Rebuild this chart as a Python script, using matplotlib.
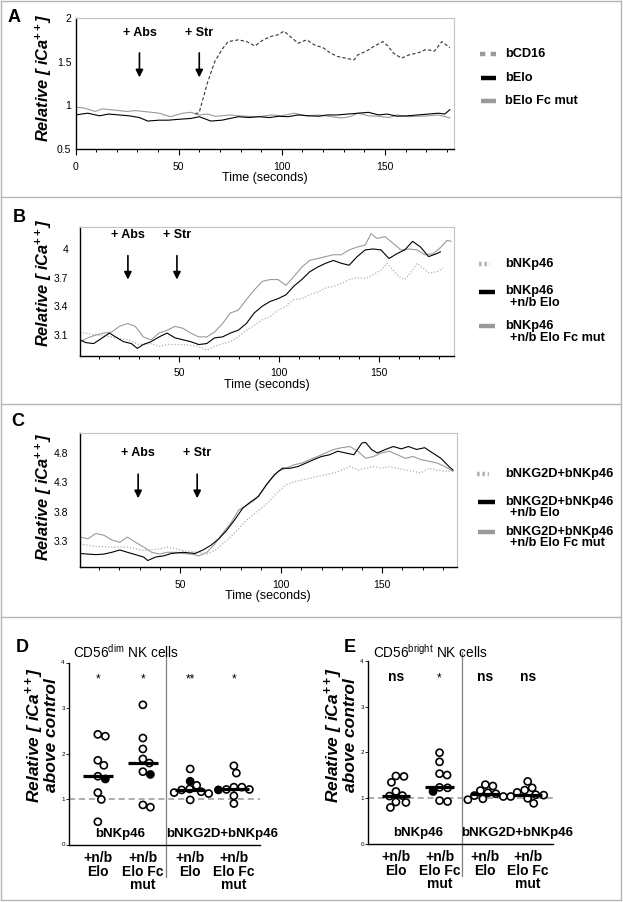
import numpy as np
import matplotlib
matplotlib.use('Agg')
import matplotlib.pyplot as plt
from matplotlib.lines import Line2D

plt.rcParams['font.family'] = ['Liberation Sans', 'DejaVu Sans']
plt.rcParams['mathtext.fontset'] = 'custom'
plt.rcParams['mathtext.rm'] = 'Liberation Sans'
plt.rcParams['mathtext.it'] = 'Liberation Sans:italic'
plt.rcParams['mathtext.bf'] = 'Liberation Sans:bold'

# ---- panel A: calcium traces ----
a_cd16_t = [58, 60, 64, 67.5, 71, 74, 79, 83, 87, 91, 95, 98.5, 101, 104, 108, 112, 116, 120, 123.5,
            127, 131, 135, 137, 141, 145, 149, 151.5, 154, 158, 162, 166, 170, 174, 177.6, 181.5]
a_cd16 = [0.90, 0.92, 1.26, 1.50, 1.64, 1.73, 1.75, 1.73, 1.68, 1.75, 1.79, 1.81, 1.85, 1.79, 1.71,
          1.75, 1.69, 1.66, 1.60, 1.56, 1.54, 1.52, 1.58, 1.62, 1.68, 1.73, 1.68, 1.60, 1.54, 1.58,
          1.60, 1.64, 1.62, 1.73, 1.66]
a_elo_t = [0, 6, 11.6, 16, 21, 26, 31, 35, 40.5, 45, 50, 56, 60, 65.6, 71, 75, 79, 84, 89, 94, 98.5,
           103, 108, 113, 118, 122, 127, 132, 137, 142, 147, 151, 156, 161, 166, 171, 176, 179, 181.5]
a_elo = [0.89, 0.91, 0.88, 0.90, 0.89, 0.88, 0.86, 0.82, 0.83, 0.83, 0.84, 0.85, 0.87, 0.82, 0.83,
         0.85, 0.87, 0.86, 0.87, 0.86, 0.875, 0.87, 0.89, 0.88, 0.875, 0.89, 0.89, 0.90, 0.91, 0.92,
         0.89, 0.90, 0.875, 0.88, 0.89, 0.90, 0.91, 0.90, 0.95]
a_fc_t = [0, 4, 9.6, 13, 17, 21, 25, 29, 33, 37, 40.5, 46, 52, 56, 60, 64, 67.5, 71, 75, 79, 83, 89,
          95, 100, 106, 112, 118, 124, 129, 133, 137, 142, 147, 152, 156, 161, 166, 171, 176, 181.5]
a_fc = [0.98, 0.97, 0.93, 0.96, 0.95, 0.94, 0.93, 0.94, 0.93, 0.92, 0.91, 0.87, 0.91, 0.92, 0.89,
        0.90, 0.875, 0.88, 0.89, 0.88, 0.875, 0.87, 0.89, 0.88, 0.91, 0.88, 0.89, 0.87, 0.855, 0.87,
        0.91, 0.88, 0.875, 0.86, 0.89, 0.87, 0.875, 0.88, 0.89, 0.855]

# ---- panel B ----
b_t = [0.5, 3.5, 7.4, 12.4, 15.3, 18.3, 22.3, 26.2, 29.2, 32.2, 36.1, 40.1, 44.1, 48, 52, 55.9, 59.9,
       63.9, 67.8, 71.8, 75.7, 79.7, 83.7, 87.6, 91.6, 95.5, 99.5, 103.5, 107.4, 111.4, 115.3, 119.3,
       123.3, 127.2, 131.2, 135.1, 139.1, 143.1, 147, 151, 155, 158.9, 162.9, 166.8, 170.8, 174.8,
       178.7, 180.7]
b_elo = [3.05, 3.02, 3.01, 3.08, 3.12, 3.08, 3.03, 3.01, 2.96, 3.00, 3.03, 3.08, 3.12, 3.07, 3.05,
         3.03, 3.00, 3.01, 3.07, 3.08, 3.12, 3.15, 3.22, 3.33, 3.40, 3.45, 3.48, 3.52, 3.61, 3.68,
         3.76, 3.81, 3.85, 3.88, 3.85, 3.83, 3.92, 3.99, 4.00, 3.99, 3.90, 3.95, 3.99, 4.08, 4.02,
         3.92, 3.95, 3.97]
b_fc_t = [0.5, 4.5, 8.4, 12.4, 16.3, 20.3, 24.3, 28.2, 32.2, 36.1, 40.1, 44.1, 48, 52, 55.9, 59.9,
          63.9, 67.8, 71.8, 75.7, 79.7, 83.7, 87.6, 91.6, 95.5, 99.5, 103.5, 107.4, 111.4, 115.3,
          119.3, 123.3, 127.2, 131.2, 135.1, 139.1, 143.1, 146, 149, 153, 157, 161, 165, 169, 173,
          177, 181, 184, 186]
b_fc = [3.03, 3.07, 3.10, 3.12, 3.13, 3.19, 3.22, 3.19, 3.08, 3.05, 3.12, 3.15, 3.19, 3.17, 3.12,
        3.08, 3.08, 3.13, 3.22, 3.33, 3.36, 3.47, 3.57, 3.66, 3.68, 3.68, 3.62, 3.71, 3.81, 3.88,
        3.90, 3.92, 3.94, 3.94, 3.99, 4.02, 4.04, 4.16, 4.11, 4.13, 4.06, 3.99, 4.00, 3.99, 3.94,
        3.95, 4.02, 4.09, 4.08]
b_nkp_t = [0.5, 8.4, 16.3, 24.3, 30, 36.1, 40.1, 44.1, 52, 59.9, 63.9, 67.8, 71.8, 75.7, 79.7, 83.7,
           87.6, 91.6, 95.5, 99.5, 103.5, 107.4, 111.4, 115.3, 119.3, 123.3, 127.2, 131.2, 135.1,
           139.1, 143.1, 147, 151, 154, 157, 160, 163, 167, 169, 172, 175, 179, 182]
b_nkp = [3.13, 3.10, 3.08, 3.05, 3.00, 3.01, 2.98, 3.00, 3.00, 2.98, 2.94, 2.98, 3.01, 3.03, 3.08,
         3.15, 3.20, 3.26, 3.29, 3.36, 3.40, 3.47, 3.48, 3.52, 3.55, 3.59, 3.61, 3.64, 3.68, 3.70,
         3.69, 3.73, 3.78, 3.85, 3.78, 3.71, 3.68, 3.78, 3.85, 3.80, 3.75, 3.76, 3.80]

# ---- panel C ----
c_t = [0.6, 8.4, 12.4, 16.3, 20.2, 24, 28, 32, 34, 38, 42, 45.7, 51.6, 57.5, 61.4, 65.3, 69.2, 73, 77,
       81, 85, 88.8, 92.7, 96.7, 100.6, 104.5, 108.4, 112.4, 116.3, 120, 124, 128, 132, 136, 140,
       141.8, 144.7, 147.6, 151.6, 155.5, 159.4, 163, 167, 171, 175, 179, 183, 185]
c_elo = [3.09, 3.07, 3.08, 3.11, 3.15, 3.11, 3.07, 3.03, 2.97, 3.03, 3.05, 3.09, 3.11, 3.09, 3.15,
         3.23, 3.34, 3.48, 3.66, 3.86, 3.97, 4.06, 4.26, 4.43, 4.54, 4.54, 4.57, 4.63, 4.69, 4.74,
         4.77, 4.83, 4.80, 4.77, 4.97, 4.98, 4.86, 4.80, 4.86, 4.91, 4.87, 4.91, 4.86, 4.89, 4.80,
         4.71, 4.57, 4.51]
c_fc_t = [0.6, 4.5, 8.4, 12.4, 16.3, 20.2, 24, 28, 32, 36, 40, 43.7, 47.6, 51.6, 55.5, 59.4, 63.3,
          67.2, 71, 75, 79, 83, 87, 91, 94.7, 98.6, 102.5, 106.5, 110.4, 114.3, 118, 122, 126, 130,
          134, 138, 141.8, 145.7, 149.6, 153.5, 157.5, 161.4, 165.3, 169, 173, 177, 181, 185]
c_fc = [3.37, 3.34, 3.43, 3.40, 3.32, 3.28, 3.37, 3.28, 3.20, 3.11, 3.08, 3.11, 3.11, 3.09, 3.08,
        3.05, 3.11, 3.25, 3.43, 3.60, 3.83, 3.91, 4.00, 4.17, 4.34, 4.49, 4.54, 4.60, 4.63, 4.69,
        4.74, 4.80, 4.86, 4.89, 4.91, 4.83, 4.71, 4.74, 4.80, 4.83, 4.77, 4.71, 4.74, 4.69, 4.66,
        4.63, 4.57, 4.49]
c_combo_t = [0.6, 8.4, 16.3, 24, 32, 40, 43.7, 51.6, 59.4, 63.3, 67.2, 71, 75, 79, 83, 87, 91, 94.7,
             98.6, 102.5, 106.5, 110.4, 114.3, 118, 122, 126, 130, 134, 138, 141.8, 145.7, 149.6,
             153.5, 157.5, 161.4, 165.3, 169, 173, 177, 181, 185]
c_combo = [3.25, 3.21, 3.20, 3.20, 3.14, 3.17, 3.20, 3.14, 3.11, 3.08, 3.14, 3.25, 3.37, 3.51, 3.66,
           3.77, 3.88, 4.00, 4.14, 4.26, 4.31, 4.34, 4.37, 4.40, 4.43, 4.46, 4.51, 4.57, 4.51, 4.54,
           4.57, 4.54, 4.57, 4.54, 4.51, 4.49, 4.46, 4.54, 4.51, 4.49, 4.49]

# ---- panels D / E: relative iCa++ above control ----
group_labels = ['+n/b\nElo', '+n/b\nElo Fc\nmut', '+n/b\nElo', '+n/b\nElo Fc\nmut']
group_pos = [1, 2, 3.05, 4.02]
d_groups = [[2.38, 2.42, 1.85, 1.74, 1.44, 1.50, 1.14, 0.99, 0.50],
            [3.07, 2.34, 2.10, 1.88, 1.79, 1.60, 1.54, 0.82, 0.87],
            [1.66, 1.39, 1.30, 1.22, 1.20, 1.16, 1.14, 1.12, 0.98],
            [1.73, 1.57, 1.26, 1.26, 1.20, 1.21, 1.21, 1.07, 0.90]]
d_filled = [4, 6, 1, 4]
d_stars = ['*', '*', '**', '*']
e_groups = [[1.48, 1.47, 1.34, 1.14, 1.05, 1.04, 0.91, 0.90, 0.79],
            [1.99, 1.79, 1.50, 1.53, 1.23, 1.22, 1.14, 0.92, 0.94],
            [1.29, 1.26, 1.16, 1.11, 1.09, 1.05, 1.03, 0.98, 0.96],
            [1.36, 1.22, 1.17, 1.12, 1.07, 1.06, 1.03, 0.99, 0.88]]
e_filled = [None, 6, None, None]
e_stars = ['ns', '*', 'ns', 'ns']

W, H = 623, 902
fig = plt.figure(figsize=(W / 100, H / 100), dpi=100)


def rect(l, t, r, b):
    return [l / W, 1 - b / H, (r - l) / W, (b - t) / H]


def fline(x0, y0, x1, y1, **kw):
    fig.add_artist(Line2D([x0 / W, x1 / W], [1 - y0 / H, 1 - y1 / H],
                          transform=fig.transFigure, **kw))


def ftext(x, y, s, **kw):
    fig.text(x / W, 1 - y / H, s, **kw)


# panel frames
frame = dict(color='#b4b4b4', lw=1.0)
fline(1, 1, 621, 1, **frame)
fline(1, 900, 621, 900, **frame)
fline(1, 1, 1, 900, **frame)
fline(621, 1, 621, 900, **frame)
for yy in [197, 404, 617]:
    fline(1, yy, 621, yy, **frame)

ylab = r'Relative [ iCa$^{\mathbf{++}}$]'


def trace_axes(box, xlim, ylim, yticks, xticks, ypad):
    ax = fig.add_axes(rect(*box))
    ax.set_xlim(xlim)
    ax.set_ylim(ylim)
    for s in ['top', 'right']:
        ax.spines[s].set_color('#c4c4c4')
        ax.spines[s].set_linewidth(0.8)
    for s in ['left', 'bottom']:
        ax.spines[s].set_linewidth(1.0)
    ax.set_xticks(xticks)
    ax.set_xticks([m for m in range(10, 190, 10) if m % 50 and xlim[0] < m < xlim[1]], minor=True)
    ax.set_yticks(yticks)
    ax.tick_params(axis='x', which='major', length=4.5, width=0.8, labelsize=7.5, pad=4.5)
    ax.tick_params(axis='x', which='minor', length=2.5, width=0.7)
    ax.tick_params(axis='y', length=0, labelsize=7.5, pad=ypad)
    ax.set_xlabel('Time (seconds)', fontsize=9, labelpad=0.5)
    return ax


def arrows(ax, xs, y0, y1, ytxt, labels):
    for x, lab in zip(xs, labels):
        ax.annotate('', xy=(x, y1), xytext=(x, y0),
                    arrowprops=dict(arrowstyle='-|>', color='black', lw=1.2, mutation_scale=11,
                                    shrinkA=0, shrinkB=0))
        ax.text(x, ytxt, lab, ha='center', va='center', fontsize=9, fontweight='bold')


def legend_entry(y, color, ls, x0, x1, lines, ys, lw=3.2):
    fline(x0, y, x1, y, color=color, ls=ls, lw=lw, solid_capstyle='butt', dash_capstyle='butt')
    for s, yy, xx in zip(lines, ys, [505, 510, 510]):
        ftext(xx, yy, s, fontsize=9.2, fontweight='bold', va='center', ha='left')


ykw = dict(rotation=90, ha='center', va='center', fontsize=11.8, fontweight='bold', style='italic')

# ---- A ----
axA = trace_axes((75.5, 18, 454, 149), (0, 183.5), (0.5, 2), [0.5, 1, 1.5, 2], [0, 50, 100, 150], 3)
axA.set_yticklabels(['0.5', '1', '1.5', '2'])
axA.plot(a_fc_t, a_fc, color='#9a9a9a', lw=0.8)
axA.plot(a_elo_t, a_elo, color='black', lw=0.8)
axA.plot(a_cd16_t, a_cd16, color='#333333', lw=0.8, ls=(0, (3, 2)))
arrows(axA, [31, 60], 1.60, 1.32, 1.83, ['+ Abs', '+ Str'])
ftext(43.5, 78, ylab, **ykw)
legend_entry(54, '#9a9a9a', (0, (1.2, 1.2)), 480, 496, ['bCD16'], [54])
legend_entry(78, 'black', '-', 481, 496, ['bElo'], [78])
legend_entry(101, '#9a9a9a', '-', 481, 496, ['bElo Fc mut'], [101])

# ---- B ----
axB = trace_axes((79.5, 227, 454, 356), (0.3, 187.5), (2.88, 4.23), [3.1, 3.4, 3.7, 4.0], [50, 100, 150], 8)
axB.set_yticklabels(['3.1', '3.4', '3.7', '4'])
axB.plot(b_nkp_t, b_nkp, color='#b0b0b0', lw=0.9, ls=(0, (1, 1.5)))
axB.plot(b_fc_t, b_fc, color='#9a9a9a', lw=0.8)
axB.plot(b_t, b_elo, color='black', lw=0.8)
arrows(axB, [24.5, 49], 3.93, 3.68, 4.15, ['+ Abs', '+ Str'])
ftext(44, 283, ylab, **ykw)
legend_entry(264, '#b4b4b4', (0, (0.6, 0.6)), 479, 490, ['bNKp46'], [264])
legend_entry(292, 'black', '-', 479, 495, ['bNKp46', '+n/b Elo'], [291, 303])
legend_entry(326, '#9a9a9a', '-', 479, 495, ['bNKp46', '+n/b Elo Fc mut'], [326, 338])

# ---- C ----
axC = trace_axes((79.5, 433, 457, 567), (0.3, 187), (2.86, 5.14), [3.3, 3.8, 4.3, 4.8], [50, 100, 150], 8)
axC.plot(c_combo_t, c_combo, color='#b0b0b0', lw=0.9, ls=(0, (1, 1.5)))
axC.plot(c_fc_t, c_fc, color='#9a9a9a', lw=0.8)
axC.plot(c_t, c_elo, color='black', lw=0.8)
arrows(axC, [29.3, 58.5], 4.44, 4.03, 4.8, ['+ Abs', '+ Str'])
ftext(44, 497, ylab, **ykw)
legend_entry(474, '#b4b4b4', (0, (0.6, 0.6)), 477, 489, ['bNKG2D+bNKp46'], [474])
legend_entry(502, 'black', '-', 478, 495, ['bNKG2D+bNKp46', '+n/b Elo'], [502, 513])
legend_entry(532, '#9a9a9a', '-', 478, 495, ['bNKG2D+bNKp46', '+n/b Elo Fc mut'], [532, 543])


# ---- D / E ----
def swarm(vals, center, px_x, px_y, diam):
    order = np.argsort(vals)[::-1]
    placed = []
    xs = np.zeros(len(vals))
    for i in order:
        y = vals[i] * px_y
        best = 0.0
        for k in range(0, 400):
            found = False
            for sgn in (1, -1):
                dx = sgn * k * 0.5
                if all((dx - px) ** 2 + (y - py) ** 2 >= diam ** 2 for px, py in placed):
                    best = dx
                    found = True
                    break
            if found:
                break
        placed.append((best, y))
        xs[i] = center + best / px_x
    return xs


def dot_axes(box, groups, filled, stars):
    ax = fig.add_axes(rect(*box))
    ax.set_xlim(0.36, 4.6)
    ax.set_ylim(0, 4)
    ax.spines['top'].set_visible(False)
    ax.spines['right'].set_visible(False)
    ax.spines['left'].set_linewidth(1.0)
    ax.spines['bottom'].set_linewidth(1.0)
    ax.set_yticks([0, 1, 2, 3, 4])
    ax.tick_params(axis='y', labelsize=4.5, length=2, width=0.6, pad=1)
    ax.set_xticks(group_pos)
    ax.set_xticklabels(group_labels, fontsize=10, fontweight='bold', linespacing=0.92)
    ax.tick_params(axis='x', length=0, pad=5)
    ax.axhline(1, color='#999999', ls=(0, (4, 2.5)), lw=1.1, zorder=1)
    ax.axvline(2.52, ymin=-0.18, ymax=1.05, color='#808080', lw=0.9, clip_on=False)
    bw = ax.get_position().width * W / (4.6 - 0.36)
    bh = ax.get_position().height * H / 4
    for i, vals in enumerate(groups):
        vals = np.array(vals)
        xs = swarm(vals, group_pos[i], bw, bh, 7.6)
        fc = ['white'] * len(vals)
        if filled[i] is not None:
            fc[filled[i]] = 'black'
        ax.scatter(xs, vals, s=26, facecolors=fc, edgecolors='black', linewidths=1.2, zorder=3)
        med = np.median(vals)
        ax.plot([group_pos[i] - 0.33, group_pos[i] + 0.33], [med, med], color='black', lw=2.3,
                solid_capstyle='butt', zorder=4)
        if stars[i] == 'ns':
            ax.text(group_pos[i], 3.66, 'ns', ha='center', va='center', fontsize=10, fontweight='bold')
        else:
            ax.text(group_pos[i], 3.62, stars[i], ha='center', va='center', fontsize=8.5)
    ax.text(1.5, 0.24, 'bNKp46', ha='center', va='center', fontsize=9.5, fontweight='bold')
    ax.text(3.77, 0.24, 'bNKG2D+bNKp46', ha='center', va='center', fontsize=9.5, fontweight='bold',
            clip_on=False)
    return ax


axD = dot_axes((69, 662.5, 260, 844.5), d_groups, d_filled, d_stars)
axE = dot_axes((368, 661, 553, 843.5), e_groups, e_filled, e_stars)
ylab2 = r'Relative [ iCa$^{\mathbf{++}}$]' + '\nabove control'
ftext(41, 735, ylab2, rotation=90, ha='center', va='center', fontsize=12.5, fontweight='bold',
      style='italic', linespacing=0.82)
ftext(340, 735, ylab2, rotation=90, ha='center', va='center', fontsize=12.5, fontweight='bold',
      style='italic', linespacing=0.82)
ftext(73, 652, r'CD56$^{\mathrm{dim}}$ NK cells', fontsize=9.8, va='center', ha='left')
ftext(373, 652, r'CD56$^{\mathrm{bright}}$ NK cells', fontsize=9.8, va='center', ha='left')

for lab, x, y in [('A', 14, 17), ('B', 19, 217), ('C', 18, 422), ('D', 22, 647), ('E', 350, 647)]:
    ftext(x, y, lab, fontsize=13, fontweight='bold', ha='center', va='center')

fig.savefig('out.png', dpi=100)
